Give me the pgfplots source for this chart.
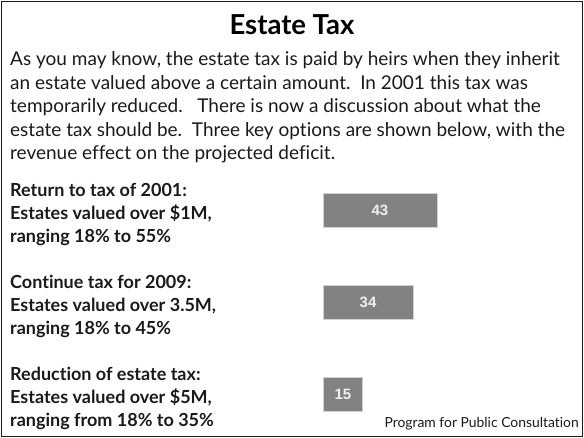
\documentclass[border=0pt]{standalone}
\usepackage{pgfplots}
\pgfplotsset{compat=1.18}
\usepackage{fontspec}
\setmainfont{Lato}[Ligatures=NoCommon]
\newfontfamily\numfont{Liberation Sans}
\definecolor{txt}{HTML}{1A1A1A}
\definecolor{barfill}{HTML}{828282}
\definecolor{baredge}{HTML}{D2D2D2}
\begin{document}
\begin{tikzpicture}
\useasboundingbox (0,0) rectangle (584bp,-438bp);
\draw[line width=1.6bp, color=txt] (1.5bp,-1.5bp) rectangle (582.5bp,-436.5bp);
% title
\node[anchor=base, inner sep=0pt, text=black, font=\fontsize{27.5bp}{30bp}\selectfont\bfseries] at (292bp,-34bp) {Estate Tax};
% paragraph
\begin{scope}[every node/.style={anchor=base west, inner sep=0pt, text=txt, font=\fontsize{19bp}{23bp}\selectfont}]
\node at (10bp,-65.5bp) {As you may know, the estate tax is paid by heirs when they inherit};
\node at (10bp,-89bp) {an estate valued above a certain amount.\ \ In 2001 this tax was};
\node at (10bp,-112.5bp) {temporarily reduced.\ \ \ There is now a discussion about what the};
\node at (10bp,-136bp) {estate tax should be.\ \ Three key options are shown below, with the};
\node at (10bp,-159.5bp) {revenue effect on the projected deficit.};
\end{scope}
\node[anchor=base east, inner sep=0pt, text=txt, font=\fontsize{13.9bp}{16bp}\selectfont] at (579bp,-427bp) {Program for Public Consultation};
\begin{axis}[
  at={(323bp,-431.3bp)}, anchor=south west,
  scale only axis, width=250bp, height=276bp,
  xmin=0, xmax=94.34, ymin=-0.4, ymax=2.6,
  xbar, bar width=34bp,
  axis line style={draw=none},
  major tick length=0pt,
  xtick=\empty,
  ytick={0,1,2},
  yticklabels={{Reduction of estate tax:\\Estates valued over \$5M,\\ranging from 18\% to 35\%},
               {Continue tax for 2009:\\Estates valued over 3.5M,\\ranging 18\% to 45\%},
               {Return to tax of 2001:\\Estates valued over \$1M,\\ranging 18\% to 55\%}},
  yticklabel style={anchor=west, xshift=-313bp, yshift=-4bp, align=left, inner sep=0pt, text=txt,
     font=\fontsize{18bp}{23bp}\selectfont\bfseries},
  clip=false,
  /pgf/number format/assume math mode=true,
  visualization depends on=rawx \as \rawx,
  nodes near coords,
  every node near coord/.append style={anchor=center, shift={(axis direction cs:-\rawx/2,0)},
     text=white!94!black, font=\fontsize{15bp}{17bp}\selectfont\numfont\bfseries},
]
\addplot[fill=barfill, draw=baredge, line width=0.8bp] coordinates {(15,0) (34,1) (43,2)};
\end{axis}
\end{tikzpicture}
\end{document}
